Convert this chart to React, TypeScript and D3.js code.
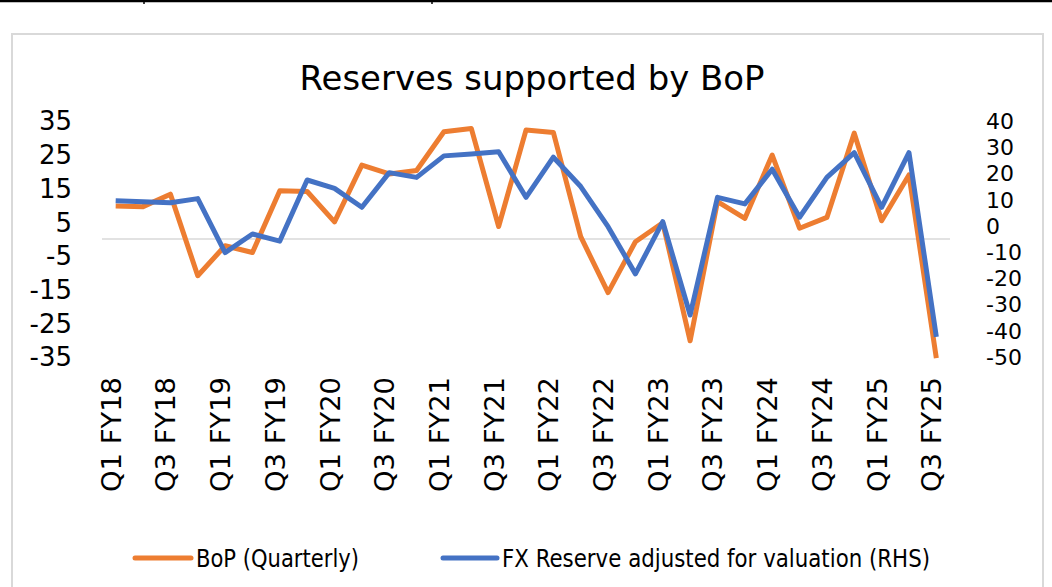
import React from 'react';
import * as d3 from 'd3';

// quarters, Q1 FY18 .. Q3 FY25
const quarters = [
  'Q1 FY18', 'Q2 FY18', 'Q3 FY18', 'Q4 FY18',
  'Q1 FY19', 'Q2 FY19', 'Q3 FY19', 'Q4 FY19',
  'Q1 FY20', 'Q2 FY20', 'Q3 FY20', 'Q4 FY20',
  'Q1 FY21', 'Q2 FY21', 'Q3 FY21', 'Q4 FY21',
  'Q1 FY22', 'Q2 FY22', 'Q3 FY22', 'Q4 FY22',
  'Q1 FY23', 'Q2 FY23', 'Q3 FY23', 'Q4 FY23',
  'Q1 FY24', 'Q2 FY24', 'Q3 FY24', 'Q4 FY24',
  'Q1 FY25', 'Q2 FY25', 'Q3 FY25',
];

// BoP (Quarterly), left axis
const bop = [
  9.8, 9.6, 13.3, -10.9, -2.0, -4.0, 14.3, 14.1, 5.1, 21.9, 19.3, 20.3,
  31.8, 32.8, 3.7, 32.3, 31.6, 0.7, -15.9, -0.8, 4.8, -30.2, 11.1, 6.1,
  24.9, 3.2, 6.4, 31.4, 5.4, 19.0, -35.3,
];

// FX Reserve adjusted for valuation, right axis
const fxReserve = [
  9.6, 9.2, 8.8, 10.4, -10.2, -3.1, -5.8, 17.5, 14.3, 7.1, 20.3, 18.5,
  26.7, 27.4, 28.3, 10.9, 26.2, 15.0, -0.3, -18.3, 1.6, -34.0, 10.9, 8.4,
  21.6, 3.3, 18.5, 27.9, 7.1, 27.9, -42.3,
];

const leftTicks = [35, 25, 15, 5, -5, -15, -25, -35];
const rightTicks = [40, 30, 20, 10, 0, -10, -20, -30, -40, -50];

const W = 1052;
const H = 587;
const FONT = '"DejaVu Sans", Verdana, sans-serif';

const App = () => {
  const plot = { left: 102, right: 950, top: 121, bottom: 357 };

  const x = d3
    .scaleBand<number>()
    .domain(d3.range(quarters.length))
    .range([plot.left, plot.right]);
  const cx = (i: number) => (x(i) as number) + x.bandwidth() / 2;

  const yLeft = d3.scaleLinear().domain([-35, 35]).range([plot.bottom, plot.top]);
  const yRight = d3.scaleLinear().domain([-50, 40]).range([plot.bottom, plot.top]);

  const bopLine = d3
    .line<number>()
    .x((_, i) => cx(i))
    .y((d) => yLeft(d));
  const fxLine = d3
    .line<number>()
    .x((_, i) => cx(i))
    .y((d) => yRight(d));

  return (
    <svg
      width={W}
      height={H}
      style={{ position: 'fixed', left: 0, top: 0, background: '#fff' }}
      fontFamily={FONT}
    >
      {/* page rule at the very top */}
      <line x1={0} x2={W} y1={1} y2={1} stroke="#000" strokeWidth={2.5} />
      <line x1={144} x2={144} y1={0} y2={4} stroke="#000" strokeWidth={1.5} />
      <line x1={432} x2={432} y1={0} y2={4} stroke="#000" strokeWidth={1.5} />

      {/* chart frame */}
      <rect x={12} y={34} width={1031} height={H} fill="#fff" stroke="#d9d9d9" strokeWidth={2} />

      <text
        x={532}
        y={90}
        textAnchor="middle"
        fontSize={34}
        textLength={465}
        lengthAdjust="spacingAndGlyphs"
        fill="#000"
      >
        Reserves supported by BoP
      </text>

      {/* zero line */}
      <line
        x1={plot.left}
        x2={plot.right}
        y1={yLeft(0)}
        y2={yLeft(0)}
        stroke="#d9d9d9"
        strokeWidth={1.5}
      />

      {leftTicks.map((t) => (
        <text key={'l' + t} x={72} y={yLeft(t)} dy="0.36em" textAnchor="end" fontSize={26} fill="#000">
          {t}
        </text>
      ))}
      {rightTicks.map((t) => (
        <text key={'r' + t} x={986} y={yRight(t)} dy="0.36em" textAnchor="start" fontSize={22} fill="#000">
          {t}
        </text>
      ))}

      {quarters.map((q, i) =>
        i % 2 === 0 ? (
          <text
            key={q}
            transform={`translate(${cx(i) + 5},377) rotate(-90)`}
            textAnchor="end"
            fontSize={26}
            textLength={115}
            lengthAdjust="spacingAndGlyphs"
            fill="#000"
          >
            {q}
          </text>
        ) : null
      )}

      <path
        d={bopLine(bop) || ''}
        fill="none"
        stroke="#ED7D31"
        strokeWidth={5}
        strokeLinejoin="round"
      />
      <path
        d={fxLine(fxReserve) || ''}
        fill="none"
        stroke="#4472C4"
        strokeWidth={5}
        strokeLinejoin="round"
      />

      {/* legend */}
      <line x1={135} x2={191} y1={558} y2={558} stroke="#ED7D31" strokeWidth={5} strokeLinecap="round" />
      <text x={196} y={567} fontSize={24} textLength={163} lengthAdjust="spacingAndGlyphs" fill="#000">
        BoP (Quarterly)
      </text>
      <line x1={443} x2={497} y1={558} y2={558} stroke="#4472C4" strokeWidth={5} strokeLinecap="round" />
      <text x={502} y={567} fontSize={24} textLength={428} lengthAdjust="spacingAndGlyphs" fill="#000">
        FX Reserve adjusted for valuation (RHS)
      </text>
    </svg>
  );
};

export default App;
